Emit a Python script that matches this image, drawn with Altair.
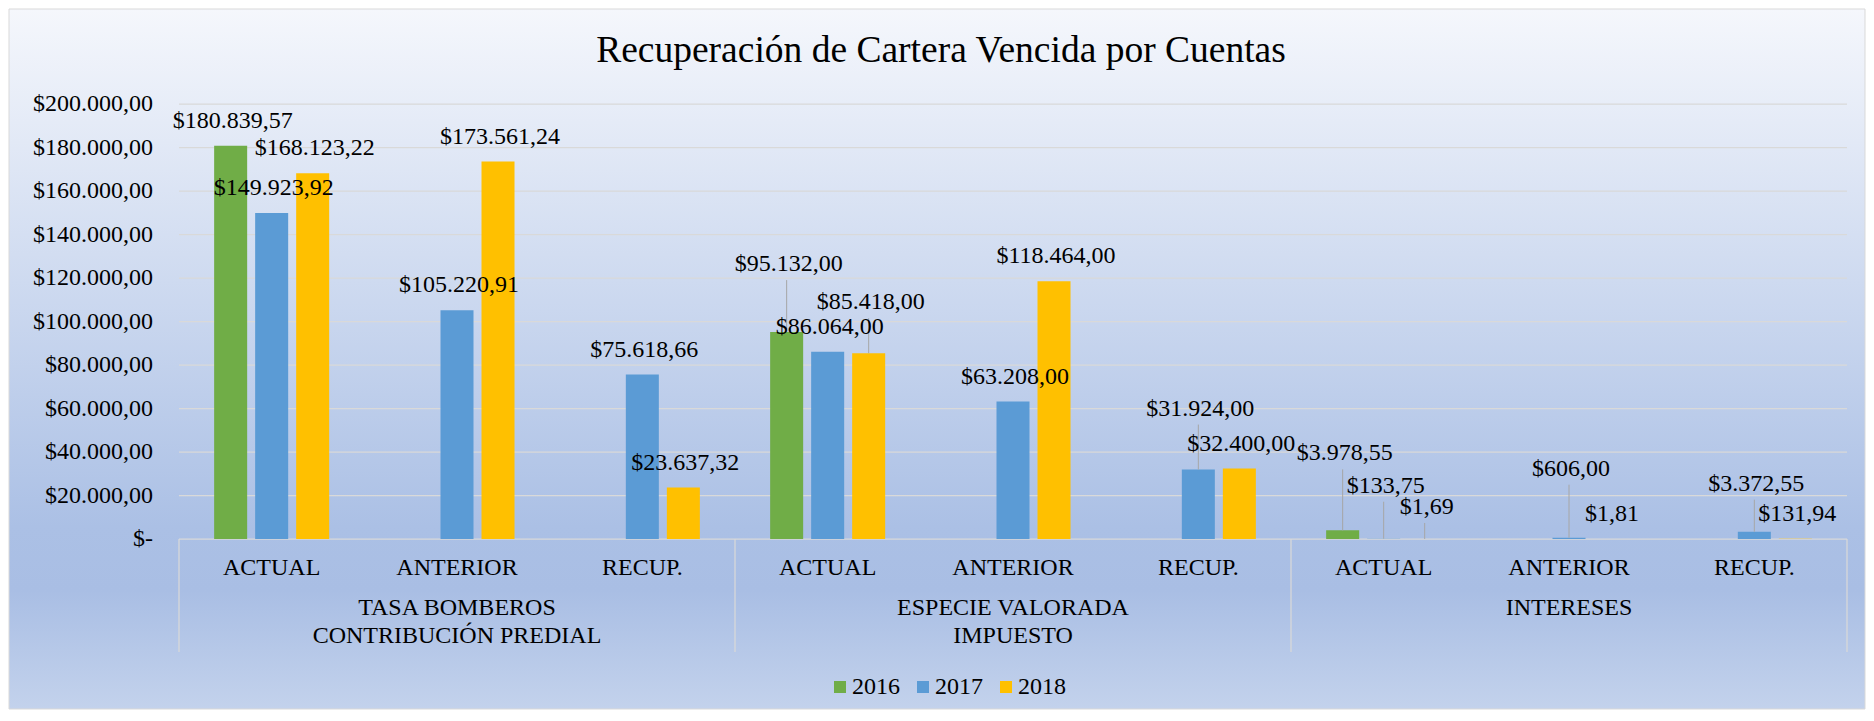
import altair as alt
import pandas as pd

# ---------------- data ----------------
title_text = "Recuperación de Cartera Vencida por Cuentas"
groups = ["TASA BOMBEROS\nCONTRIBUCIÓN PREDIAL", "ESPECIE VALORADA\nIMPUESTO", "INTERESES"]
subs = ["ACTUAL", "ANTERIOR", "RECUP."]
years = ["2016", "2017", "2018"]
colors = ["#70AD47", "#5B9BD5", "#FFC000"]

values_2016 = [180839.57, None, None, 95132.00, None, None, 3978.55, None, None]
values_2017 = [149923.92, 105220.91, 75618.66, 86064.00, 63208.00, 31924.00, 133.75, 606.00, 3372.55]
values_2018 = [168123.22, 173561.24, 23637.32, 85418.00, 118464.00, 32400.00, 1.69, 1.81, 131.94]

# manual label lifts (px) as moved in the original, with leader lines
lift_2016 = [0, 0, 0, 43, 0, 0, 52, 0, 0]
lift_2017 = [0, 0, 0, 0, 0, 36, 28, 44, 23]
lift_2018 = [0, 0, 0, 26, 0, 0, 7, 0, 0]

y_ticks = [0, 20000, 40000, 60000, 80000, 100000, 120000, 140000, 160000, 180000, 200000]

# ---------------- layout ----------------
W, H = 1668, 435
YMAX = 200000
K = YMAX / H
LPAD, TPAD, RPAD, BPAD = 170, 95, 18, 170
FONT = "Liberation Serif"
TXT = "#000000"
GRID = "#D9D9D9"


def fmt(v):
    s = f"{v:,.2f}".replace(",", "#").replace(".", ",").replace("#", ".")
    return "$" + s


def fmt_tick(v):
    return "$-\u00a0\u00a0" if v == 0 else fmt(v)


keys = [f"{gi}|{s}" for gi in range(len(groups)) for s in subs]
vals = {"2016": values_2016, "2017": values_2017, "2018": values_2018}
lifts = {"2016": lift_2016, "2017": lift_2017, "2018": lift_2018}

rows = []
for yr in years:
    for i, k in enumerate(keys):
        v = vals[yr][i]
        if v is None:
            continue
        lift = lifts[yr][i]
        rows.append(dict(key=k, year=yr, value=v, label=fmt(v),
                         label_y=v + lift * K, lead_top=v + (lift + 9) * K,
                         lifted=bool(lift > 0)))
df = pd.DataFrame(rows)

gdf = pd.DataFrame({
    "name": groups,
    "first": [f"{gi}|{subs[0]}" for gi in range(len(groups))],
    "mid": [f"{gi}|{subs[1]}" for gi in range(len(groups))],
})
last_df = pd.DataFrame({"last": [keys[-1]]})
xlab_df = pd.DataFrame({"key": keys, "sub": [k.split("|")[1] for k in keys]})
ytick_df = pd.DataFrame({"v": y_ticks, "lab": [fmt_tick(v) for v in y_ticks]})

xscale = alt.Scale(domain=keys, paddingInner=0, paddingOuter=0)
yscale = alt.Scale(domain=[0, YMAX], nice=False, zero=True)
xoff = alt.XOffset("year:N", scale=alt.Scale(domain=years, paddingInner=0.195, paddingOuter=0.857))

bg = alt.Chart(alt.Data(values=[{}])).mark_rect(
    color=alt.LinearGradient(
        gradient="linear", x1=0, x2=0, y1=0, y2=1,
        stops=[alt.GradientStop(color="#F5F7FC", offset=0),
               alt.GradientStop(color="#ABC0E5", offset=0.74),
               alt.GradientStop(color="#A9BEE4", offset=0.83),
               alt.GradientStop(color="#C3D2EC", offset=1)]),
    stroke="#D9D9D9", strokeWidth=1,
).encode(x=alt.value(-LPAD), x2=alt.value(W + RPAD), y=alt.value(-TPAD), y2=alt.value(H + BPAD))

# horizontal gridlines (the one at 0 is the top of the category box)
grid = alt.Chart(ytick_df).mark_rule(color=GRID, strokeWidth=1.25).encode(
    y=alt.Y("v:Q", scale=yscale, axis=None)
)

# y tick labels
ylabels = alt.Chart(ytick_df).mark_text(
    font=FONT, fontSize=24, color=TXT, align="right", baseline="middle"
).encode(y=alt.Y("v:Q", scale=yscale, axis=None), x=alt.value(-26), text="lab:N")

base = alt.Chart(df)

bars = base.mark_bar().encode(
    x=alt.X("key:N", scale=xscale, axis=None),
    xOffset=xoff,
    y=alt.Y("value:Q", scale=yscale, axis=None),
    color=alt.Color("year:N", scale=alt.Scale(domain=years, range=colors),
                    legend=alt.Legend(title=None, orient="none", legendX=649, legendY=571,
                                      direction="horizontal", symbolType="square", symbolSize=144,
                                      symbolStrokeWidth=0, labelFont=FONT, labelFontSize=24,
                                      labelColor=TXT, labelOffset=0, columnPadding=11)),
)

leaders = base.transform_filter("datum.lifted").mark_rule(color="#A6A6A6", strokeWidth=1).encode(
    x=alt.X("key:N", scale=xscale, axis=None),
    xOffset=xoff,
    y=alt.Y("value:Q", scale=yscale, axis=None),
    y2="lead_top:Q",
)

labels = base.mark_text(font=FONT, fontSize=24, color=TXT, baseline="alphabetic", dy=-18, dx=2).encode(
    x=alt.X("key:N", scale=xscale, axis=None),
    xOffset=xoff,
    y=alt.Y("label_y:Q", scale=yscale, axis=None),
    text="label:N",
)

# sub-category labels
xlabels = alt.Chart(xlab_df).mark_text(
    font=FONT, fontSize=24, color=TXT, baseline="alphabetic", align="center"
).encode(x=alt.X("key:N", scale=xscale, axis=None), y=alt.value(H + 36), text="sub:N")

seps = alt.Chart(gdf).mark_rule(color=GRID, strokeWidth=1.25).encode(
    x=alt.X("first:N", scale=xscale, axis=None, bandPosition=0),
    y=alt.value(H), y2=alt.value(H + 113),
)
sep_end = alt.Chart(last_df).mark_rule(color=GRID, strokeWidth=1.25).encode(
    x=alt.X("last:N", scale=xscale, axis=None, bandPosition=1),
    y=alt.value(H), y2=alt.value(H + 113),
)

glabels = alt.Chart(gdf).mark_text(font=FONT, fontSize=24, color=TXT, baseline="alphabetic",
                                   lineBreak="\n", lineHeight=28.5, align="center").encode(
    x=alt.X("mid:N", scale=xscale, axis=None),
    y=alt.value(H + 75.5),
    text="name:N",
)

title = alt.Chart(alt.Data(values=[{"t": title_text}])).mark_text(
    font=FONT, fontSize=37.5, color=TXT, baseline="alphabetic", align="center"
).encode(x=alt.value(762), y=alt.value(-42), text="t:N")

chart = alt.layer(bg, grid, ylabels, bars, leaders, labels, xlabels, seps, sep_end, glabels, title).properties(
    width=W, height=H, padding=0
).configure_view(stroke=None).configure(background="white")

chart.save("out.html", embed_options={"renderer": "svg", "actions": False})
